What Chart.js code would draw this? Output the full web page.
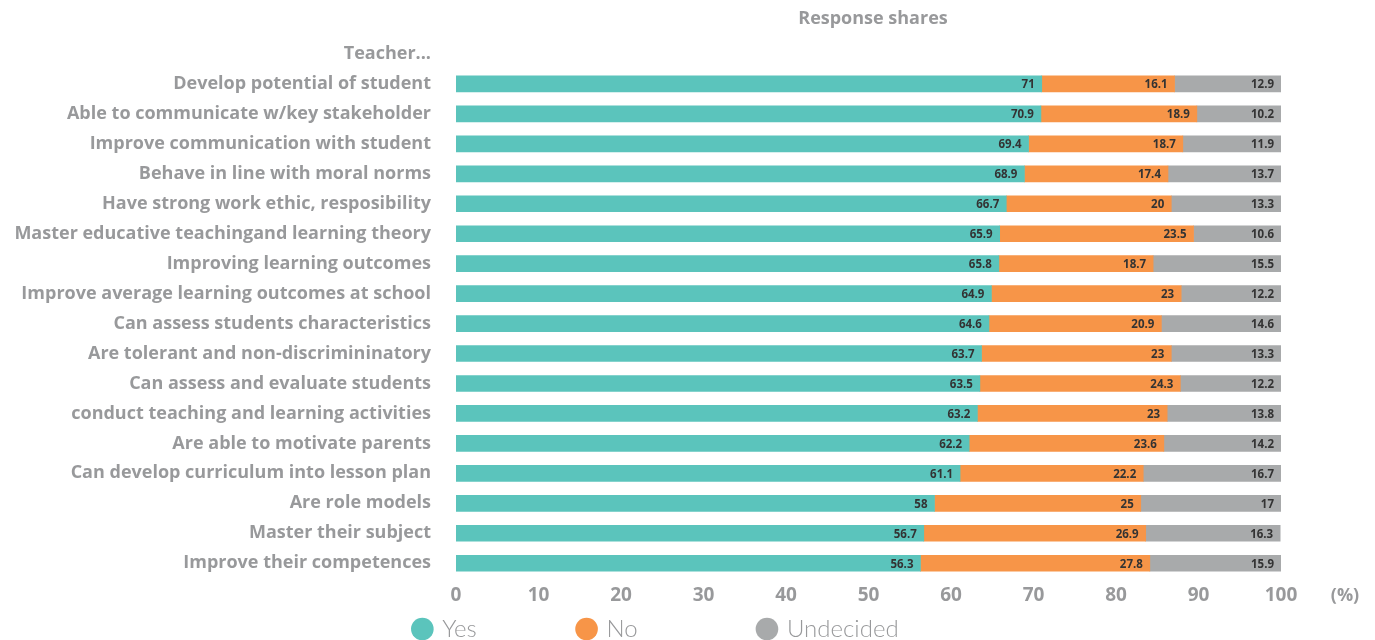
<!DOCTYPE html>
<html>
<head>
<meta charset="utf-8">
<script src="https://cdn.jsdelivr.net/npm/chart.js@4"></script>
<style>
  html, body { margin: 0; padding: 0; background: #fff; }
  #wrap { width: 1375px; height: 640px; position: relative; }
</style>
</head>
<body>
<div id="wrap"><canvas id="sharesChart"></canvas></div>
<script>
// categories, top row "Teacher..." is just a header with no bar
const categories = [
    'Teacher...',
    'Develop potential of student',
    'Able to communicate w/key stakeholder',
    'Improve communication with student',
    'Behave in line with moral norms',
    'Have strong work ethic, resposibility',
    'Master educative teachingand learning theory',
    'Improving learning outcomes',
    'Improve average learning outcomes at school',
    'Can assess students characteristics',
    'Are tolerant and non-discrimininatory',
    'Can assess and evaluate students',
    'conduct teaching and learning activities',
    'Are able to motivate parents',
    'Can develop curriculum into lesson plan',
    'Are role models',
    'Master their subject',
    'Improve their competences'
];
const yesValues = [null, 71, 70.9, 69.4, 68.9, 66.7, 65.9, 65.8, 64.9, 64.6, 63.7, 63.5, 63.2, 62.2, 61.1, 58, 56.7, 56.3];
const noValues = [null, 16.1, 18.9, 18.7, 17.4, 20, 23.5, 18.7, 23, 20.9, 23, 24.3, 23, 23.6, 22.2, 25, 26.9, 27.8];
const undecidedValues = [null, 12.9, 10.2, 11.9, 13.7, 13.3, 10.6, 15.5, 12.2, 14.6, 13.3, 12.2, 13.8, 14.2, 16.7, 17, 16.3, 15.9];
const xTicks = [0, 10, 20, 30, 40, 50, 60, 70, 80, 90, 100];

const FONT = '"Open Sans", Lato, sans-serif';
const LIGHT_FONT = 'Lato, "Open Sans", sans-serif';
const GREY_TEXT = '#98999b';

// value labels at the right end of each segment
const valueLabels = {
    id: 'valueLabels',
    afterDatasetsDraw(chart) {
        const ctx = chart.ctx;
        ctx.save();
        ctx.font = 'bold 11.5px ' + FONT;
        ctx.fillStyle = '#333333';
        ctx.textAlign = 'right';
        ctx.textBaseline = 'middle';
        chart.data.datasets.forEach((ds, i) => {
            chart.getDatasetMeta(i).data.forEach((bar, j) => {
                const v = ds.data[j];
                if (v === null || v === undefined) return;
                ctx.fillText(String(v), Math.min(bar.x, chart.chartArea.right) - 7, bar.y + 1);
            });
        });
        ctx.restore();
    }
};

// title over the plot area and the (%) unit after the last tick
const extraText = {
    id: 'extraText',
    afterDraw(chart) {
        const ctx = chart.ctx;
        const xs = chart.scales.x;
        ctx.save();
        ctx.fillStyle = GREY_TEXT;
        ctx.textBaseline = 'middle';
        ctx.textAlign = 'center';
        ctx.font = 'bold 18px ' + FONT;
        ctx.fillText('Response shares', 873, 19);
        ctx.font = 'bold 18px ' + FONT;
        ctx.fillText('(%)', 1345, xs.top + 6 + 12);
        ctx.restore();
    },
    afterLayout(chart) {
        // legend sits a bit left of the canvas centre
        if (chart.legend) {
            chart.legend.left += 16;
            chart.legend.right += 16;
        }
    }
};

document.addEventListener('DOMContentLoaded', function() {
    const ctx = document.getElementById('sharesChart').getContext('2d');

    const sharesChart = new Chart(ctx, {
        type: 'bar',
        data: {
            labels: categories,
            datasets: [
                { label: 'Yes', data: yesValues, backgroundColor: '#5bc4bc' },
                { label: 'No', data: noValues, backgroundColor: '#f79548' },
                { label: 'Undecided', data: undecidedValues, backgroundColor: '#a8aaab' }
            ]
        },
        options: {
            indexAxis: 'y',
            responsive: true,
            maintainAspectRatio: false,
            animation: false,
            barThickness: 16,
            layout: {
                padding: { top: 39, right: 94, bottom: -11, left: 0 }
            },
            scales: {
                x: {
                    stacked: true,
                    min: 0,
                    max: 100,
                    afterBuildTicks(scale) {
                        scale.ticks = xTicks.map(v => ({ value: v }));
                    },
                    grid: { display: false, drawTicks: false },
                    border: { display: false },
                    ticks: {
                        padding: 6,
                        color: GREY_TEXT,
                        font: { family: FONT, size: 19, weight: 'bold' }
                    }
                },
                y: {
                    stacked: true,
                    grid: { display: false, drawTicks: false },
                    border: { display: false },
                    afterFit(scale) {
                        scale.width = 456;
                    },
                    ticks: {
                        padding: 25,
                        color: GREY_TEXT,
                        font: { family: FONT, size: 18, weight: 'bold' }
                    }
                }
            },
            plugins: {
                legend: {
                    position: 'bottom',
                    labels: {
                        usePointStyle: true,
                        pointStyle: 'circle',
                        boxWidth: 16,
                        boxHeight: 16,
                        padding: 4,
                        color: GREY_TEXT,
                        font: { family: LIGHT_FONT, size: 24, weight: '300' },
                        generateLabels(chart) {
                            const pads = ['               ', '                  ', ''];
                            return Chart.defaults.plugins.legend.labels.generateLabels(chart).map((item, i) => {
                                item.text = item.text + pads[i];
                                return item;
                            });
                        }
                    }
                },
                title: { display: false },
                tooltip: { enabled: false }
            }
        },
        plugins: [valueLabels, extraText]
    });
});
</script>
</body>
</html>
